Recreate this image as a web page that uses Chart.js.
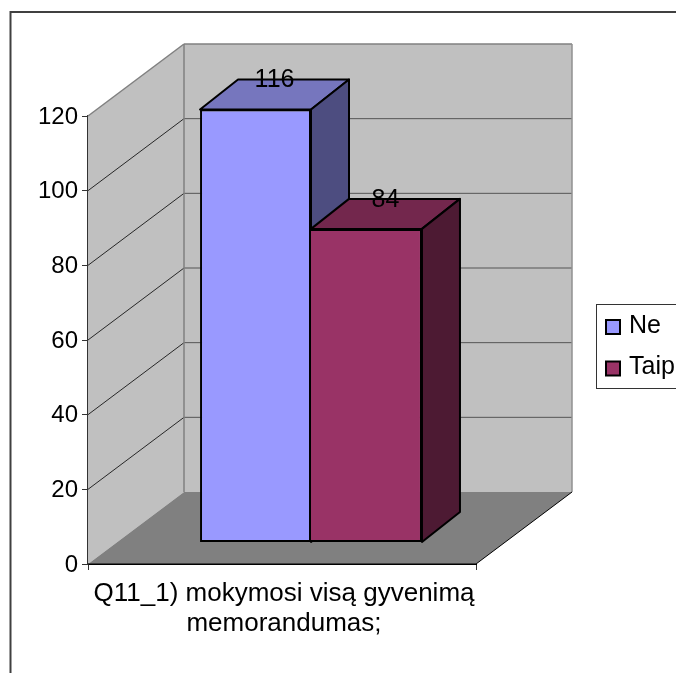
<!DOCTYPE html>
<html>
<head>
<meta charset="utf-8">
<style>
  html, body { margin: 0; padding: 0; background: #fff; overflow: hidden; }
  canvas { display: block; }
</style>
<script src="https://cdn.jsdelivr.net/npm/chart.js@4/dist/chart.umd.min.js"></script>
</head>
<body>
<div style="width:676px;height:673px"><canvas id="chart"></canvas></div>
<script>
// data
var categories = [['Q11_1) mokymosi visą gyvenimą', 'memorandumas;']];
var seriesNames = ['Ne', 'Taip'];
var neValues = [116];
var taipValues = [84];
var yTicks = [0, 20, 40, 60, 80, 100, 120];

var fontName = '"Liberation Sans", Arial, sans-serif';

// fake 3d: how far the back wall and the bars sit from the front of the box
var wallDx = 96, wallDy = -72;
var barOffX = 29, barOffY = -21.5;
var barDepthX = 38, barDepthY = -30;

var faceColors = [
  { front: '#9999FF', top: '#7676BE', side: '#4D4D80' },
  { front: '#993366', top: '#73274D', side: '#4D1A33' }
];

function poly(ctx, pts, fill, stroke, width) {
  ctx.beginPath();
  ctx.moveTo(pts[0][0], pts[0][1]);
  for (var i = 1; i < pts.length; i++) ctx.lineTo(pts[i][0], pts[i][1]);
  ctx.closePath();
  if (fill) { ctx.fillStyle = fill; ctx.fill(); }
  if (stroke) { ctx.strokeStyle = stroke; ctx.lineWidth = width || 1; ctx.lineJoin = 'round'; ctx.stroke(); }
}

function line(ctx, x1, y1, x2, y2, color, width) {
  ctx.beginPath();
  ctx.moveTo(x1, y1);
  ctx.lineTo(x2, y2);
  ctx.strokeStyle = color;
  ctx.lineWidth = width;
  ctx.stroke();
}

var box3d = {
  id: 'box3d',
  beforeDatasetsDraw: function (chart) {
    var ctx = chart.ctx, a = chart.chartArea, y = chart.scales.y;
    var l = a.left, r = a.right, t = a.top, b = a.bottom;
    ctx.save();
    // outer frame of the chart, runs off the window
    ctx.strokeStyle = '#404040';
    ctx.lineWidth = 2;
    ctx.strokeRect(10.5, 12, 800, 800);

    // walls and floor
    poly(ctx, [[l, t], [l + wallDx, t + wallDy], [l + wallDx, b + wallDy], [l, b]], '#C0C0C0');
    poly(ctx, [[l + wallDx, t + wallDy], [r + wallDx, t + wallDy], [r + wallDx, b + wallDy], [l + wallDx, b + wallDy]], '#C0C0C0');
    poly(ctx, [[l, b], [l + wallDx, b + wallDy], [r + wallDx, b + wallDy], [r, b]], '#808080');

    // grid lines
    yTicks.forEach(function (v) {
      if (v === 0 || v === 120) return;
      var py = y.getPixelForValue(v);
      line(ctx, l, py, l + wallDx, py + wallDy, '#000', 0.8);
      line(ctx, l + wallDx, py + wallDy, r + wallDx, py + wallDy, '#555', 1);
    });

    // wall edges
    line(ctx, l, t, l + wallDx, t + wallDy, '#808080', 1.5);
    line(ctx, l + wallDx, t + wallDy, r + wallDx, t + wallDy, '#808080', 1.5);
    line(ctx, l + wallDx, t + wallDy, l + wallDx, b + wallDy, '#808080', 1.5);
    line(ctx, r + wallDx, t + wallDy, r + wallDx, b + wallDy, '#909090', 1.5);
    line(ctx, l, b, r, b, '#000', 1);
    line(ctx, r, b, r + wallDx, b + wallDy, '#000', 1);

    // top and side of each bar, the front face is the real chart.js bar
    chart.data.datasets.forEach(function (ds, i) {
      var el = chart.getDatasetMeta(i).data[0];
      var x1 = el.x - el.width / 2 + barOffX, x2 = el.x + el.width / 2 + barOffX;
      var yt = el.y + barOffY, yb = el.base + barOffY;
      var c = faceColors[i];
      poly(ctx, [[x1, yt], [x1 + barDepthX, yt + barDepthY], [x2 + barDepthX, yt + barDepthY], [x2, yt]], c.top, '#000', 2);
      poly(ctx, [[x2, yt], [x2 + barDepthX, yt + barDepthY], [x2 + barDepthX, yb + barDepthY], [x2, yb]], c.side, '#000', 2);
    });
    ctx.restore();

    // bars get drawn on the front plane of the floor offset
    ctx.save();
    ctx.translate(barOffX, barOffY);
  },
  afterDatasetsDraw: function (chart) {
    var ctx = chart.ctx;
    ctx.restore();

    // value labels
    ctx.save();
    ctx.font = '25px ' + fontName;
    ctx.fillStyle = '#000';
    ctx.textAlign = 'center';
    ctx.textBaseline = 'middle';
    chart.data.datasets.forEach(function (ds, i) {
      var el = chart.getDatasetMeta(i).data[0];
      ctx.fillText(String(ds.data[0]), el.x + barOffX + barDepthX / 2, el.y + barOffY + barDepthY + 1);
    });

    // legend box
    ctx.fillStyle = '#fff';
    ctx.fillRect(596, 304, 120, 84);
    ctx.strokeStyle = '#333';
    ctx.lineWidth = 1;
    ctx.strokeRect(596.5, 304.5, 120, 84);
    chart.data.datasets.forEach(function (ds, i) {
      var top = 320 + i * 41.5;
      ctx.fillStyle = ds.backgroundColor;
      ctx.fillRect(606, top, 14, 14);
      ctx.strokeStyle = '#000';
      ctx.lineWidth = 2;
      ctx.strokeRect(606, top, 14, 14);
      ctx.fillStyle = '#000';
      ctx.textAlign = 'left';
      ctx.fillText(ds.label, 629, top + 6);
    });
    ctx.restore();
  }
};

new Chart(document.getElementById('chart').getContext('2d'), {
  type: 'bar',
  data: {
    labels: categories,
    datasets: [
      { label: seriesNames[0], data: neValues, backgroundColor: faceColors[0].front, borderColor: '#000', borderWidth: 2, borderSkipped: false, clip: false },
      { label: seriesNames[1], data: taipValues, backgroundColor: faceColors[1].front, borderColor: '#000', borderWidth: { top: 2, right: 2, bottom: 2, left: 0 }, borderSkipped: false, clip: false }
    ]
  },
  options: {
    responsive: true,
    maintainAspectRatio: false,
    animation: false,
    events: [],
    layout: { padding: { left: 0, right: 200, top: 116, bottom: 0 } },
    datasets: { bar: { categoryPercentage: 0.572, barPercentage: 1 } },
    plugins: { legend: { display: false }, tooltip: { enabled: false } },
    scales: {
      x: {
        afterFit: function (s) { s.height = 109; },
        border: { color: '#000' },
        grid: { drawOnChartArea: false, tickLength: 6, tickColor: '#333' },
        ticks: { color: '#000', maxRotation: 0, autoSkip: false, padding: 9, labelOffset: 2, font: { family: fontName, size: 26, lineHeight: 1.16 } }
      },
      y: {
        min: 0,
        max: 120,
        afterFit: function (s) { s.width = 88; },
        afterBuildTicks: function (s) { s.ticks = yTicks.map(function (v) { return { value: v }; }); },
        border: { color: '#333', width: 2 },
        grid: { drawOnChartArea: false, tickLength: 6, tickColor: '#333' },
        ticks: { color: '#000', padding: 4, labelOffset: 1, font: { family: fontName, size: 24 } }
      }
    }
  },
  plugins: [box3d]
});
</script>
</body>
</html>
